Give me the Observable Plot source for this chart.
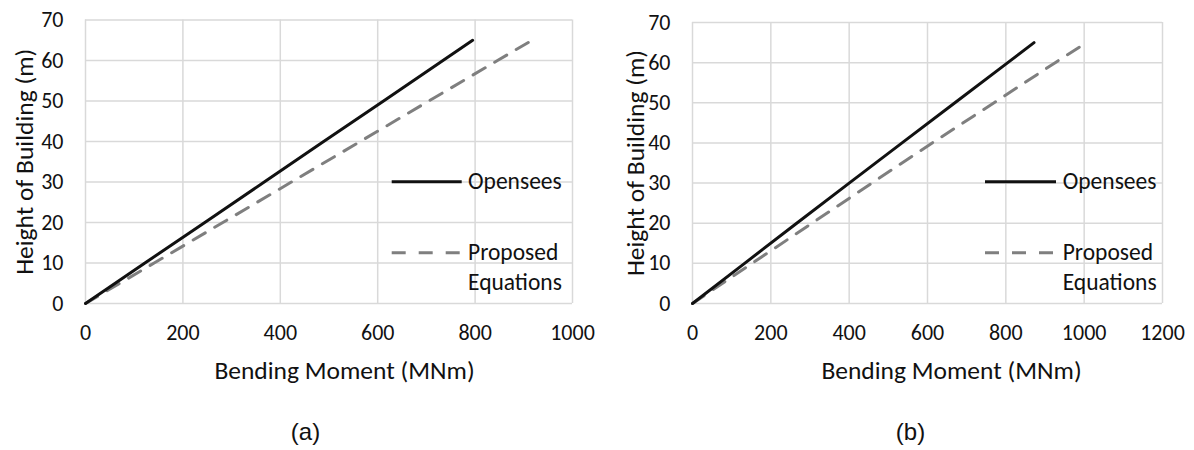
<!DOCTYPE html>
<html>
<head>
<meta charset="utf-8">
<script src="https://cdn.jsdelivr.net/npm/d3@7"></script>
<script src="https://cdn.jsdelivr.net/npm/@observablehq/plot@0.6"></script>
<style>
  body { margin: 0; background: #fff; }
  #wrap { display: flex; width: 1194px; height: 450px; }
</style>
</head>
<body>
<div id="wrap"></div>
<script>
// ---- data ----
const heightsOpenA = [0, 10, 20, 30, 40, 50, 60, 65];
const momentOpenA  = [0, 122, 245, 367, 489, 612, 734, 795];
const heightsPropA = [0, 10, 20, 30, 40, 50, 60, 65];
const momentPropA  = [0, 141, 282, 423, 564, 705, 846, 917];

const heightsOpenB = [0, 10, 20, 30, 40, 50, 60, 65];
const momentOpenB  = [0, 133, 266, 400, 535, 670, 805, 872];
const heightsPropB = [0, 10, 20, 30, 40, 50, 60, 64];
const momentPropB  = [0, 152, 305, 458, 612, 770, 926, 990];

const xTicksA = [0, 200, 400, 600, 800, 1000];
const xTicksB = [0, 200, 400, 600, 800, 1000, 1200];
const yTicks  = [0, 10, 20, 30, 40, 50, 60, 70];

const seriesOpen = "Opensees";
const seriesProp = ["Proposed", "Equations"];
const xTitle = "Bending Moment (MNm)";
const yTitle = "Height of Building (m)";
const captions = ["(a)", "(b)"];

const FONT = "Calibri, Carlito, 'Open Sans', sans-serif";
const CAPFONT = "Arial, 'Liberation Sans', sans-serif";
const GRID = "#d9d9d9";
const INK = "#111";
const DASH = "#7f7f7f";

const rows = (hs, ms) => hs.map((h, i) => ({h, m: ms[i]}));

function legendMark(lx1, lx2, tx, y1, y2, y3) {
  return () => {
    const g = d3.create("svg:g").attr("font-family", FONT).attr("font-size", 23.5)
      .attr("fill", INK).attr("text-anchor", "start");
    g.append("line").attr("x1", lx1).attr("x2", lx2).attr("y1", y1).attr("y2", y1)
      .attr("stroke", INK).attr("stroke-width", 3);
    g.append("text").attr("x", tx).attr("y", y1).attr("dy", "0.33em").text(seriesOpen);
    g.append("line").attr("x1", lx1).attr("x2", lx2).attr("y1", y2).attr("y2", y2)
      .attr("stroke", DASH).attr("stroke-width", 3).attr("stroke-dasharray", "14,13");
    g.append("text").attr("x", tx).attr("y", y2).attr("dy", "0.33em").text(seriesProp[0]);
    g.append("text").attr("x", tx).attr("y", y3).attr("dy", "0.33em").text(seriesProp[1]);
    return g.node();
  };
}

function panel(o) {
  const plotW = 597 - o.ml - o.mr;
  return Plot.plot({
    width: 597,
    height: 450,
    marginLeft: o.ml,
    marginRight: o.mr,
    marginTop: o.mt,
    marginBottom: 147,
    x: {domain: o.xDomain, label: null},
    y: {domain: [0, 70], label: null},
    style: {fontFamily: FONT, fontSize: "22px", color: INK, background: "#fff", overflow: "visible"},
    marks: [
      Plot.gridX(o.xTicks, {stroke: GRID, strokeOpacity: 1, strokeWidth: 1.5}),
      Plot.gridY(yTicks, {stroke: GRID, strokeOpacity: 1, strokeWidth: 1.5}),
      Plot.axisX(o.xTicks, {tickSize: 0, tickPadding: 21, fontSize: 22, fill: INK, label: null, tickFormat: d3.format("d")}),
      Plot.axisY(yTicks, {tickSize: 0, tickPadding: 22, fontSize: 22, fill: INK, label: null, tickFormat: d3.format("d")}),
      Plot.line(o.prop, {x: "m", y: "h", stroke: DASH, strokeWidth: 3, strokeDasharray: "14,11"}),
      Plot.line(o.open, {x: "m", y: "h", stroke: INK, strokeWidth: 3}),
      Plot.text([xTitle], {frameAnchor: "bottom", dx: 259 - plotW / 2, dy: 67, lineAnchor: "middle", textAnchor: "middle", fontSize: 25.5, fill: INK}),
      Plot.text([yTitle], {frameAnchor: "left", dx: o.ytDx, rotate: -90, lineAnchor: "middle", textAnchor: "middle", fontSize: 25.5, fill: INK}),
      Plot.text([o.caption], {frameAnchor: "bottom", dx: o.capDx, dy: 129, lineAnchor: "middle", textAnchor: "middle", fontSize: 24, fontFamily: CAPFONT, fill: INK}),
      legendMark(...o.legend)
    ]
  });
}

const wrap = document.getElementById("wrap");
wrap.append(panel({
  ml: 85, mr: 25, mt: 19.5,
  xDomain: [0, 1000], xTicks: xTicksA,
  open: rows(heightsOpenA, momentOpenA),
  prop: rows(heightsPropA, momentPropA),
  ytDx: -61, caption: captions[0], capDx: -23.5,
  legend: [391.7, 461.7, 468, 181.7, 252.7, 282]
}));
wrap.append(panel({
  ml: 95, mr: 32, mt: 22,
  xDomain: [0, 1200], xTicks: xTicksB,
  open: rows(heightsOpenB, momentOpenB),
  prop: rows(heightsPropB, momentPropB),
  ytDx: -57, caption: captions[1], capDx: -17,
  legend: [388, 459, 465.7, 181.7, 252.7, 282]
}));
</script>
</body>
</html>
